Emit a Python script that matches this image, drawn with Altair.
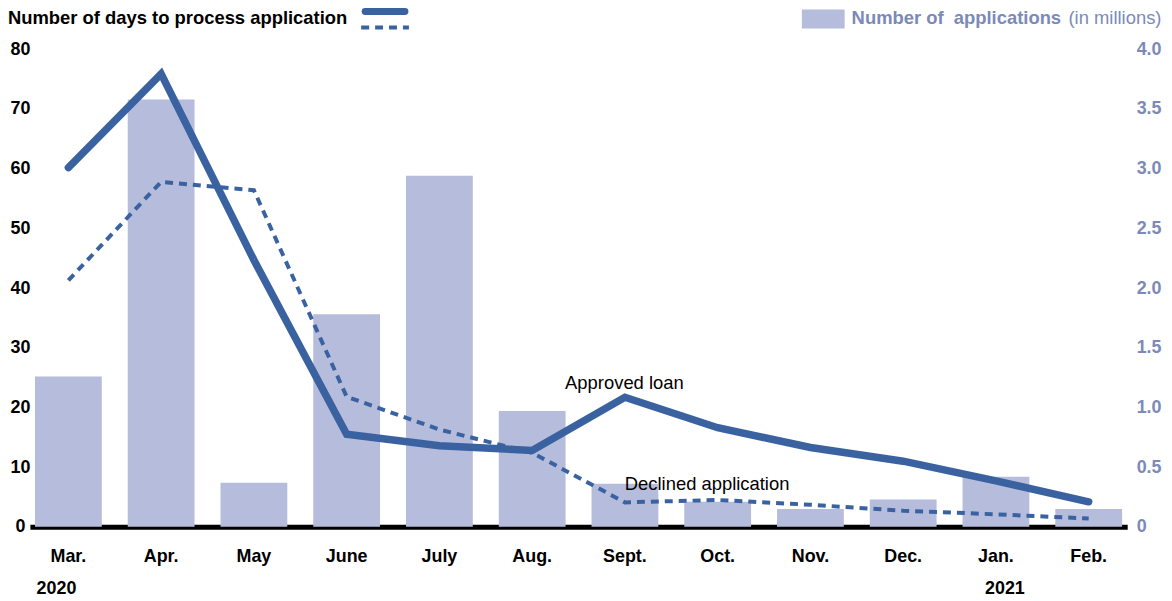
import altair as alt
import pandas as pd

months = ["Mar.", "Apr.", "May", "June", "July", "Aug.", "Sept.", "Oct.", "Nov.", "Dec.", "Jan.", "Feb."]
applications = [1.26, 3.58, 0.37, 1.78, 2.94, 0.97, 0.36, 0.21, 0.15, 0.23, 0.42, 0.15]
approved = [60.2, 75.9, 44.7, 15.5, 13.6, 12.8, 21.7, 16.6, 13.3, 11.0, 7.7, 4.2]
declined = [41.3, 57.8, 56.4, 21.8, 16.3, 12.4, 4.1, 4.5, 3.7, 2.7, 2.1, 1.4]
year_months = ["Mar.", "Jan."]
years = ["2020", "2021"]

BAR = "#b6bcdb"
LINE = "#3b62a0"
RIGHT = "#7b8ab8"
FONT = "Liberation Sans"

df = pd.DataFrame({"month": months, "apps": applications,
                   "approved": approved, "declined": declined})
ydf = pd.DataFrame({"month": year_months, "year": years})

xenc = alt.X("month:N", sort=months, title=None,
             scale=alt.Scale(paddingInner=0.28, paddingOuter=0.055),
             axis=alt.Axis(labelAngle=0, labelFont=FONT, labelFontWeight="bold",
                           labelFontSize=18, labelColor="black", labelPadding=21,
                           ticks=False, domainColor="black", domainWidth=5, grid=False))

bars = alt.Chart(df).mark_bar(color=BAR).encode(
    x=xenc,
    y=alt.Y("apps:Q", title=None,
            scale=alt.Scale(domain=[0, 4], nice=False),
            axis=alt.Axis(orient="right", values=[0, 0.5, 1, 1.5, 2, 2.5, 3, 3.5, 4],
                          labelExpr="datum.value == 0 ? '0' : format(datum.value, '.1f')",
                          labelFont=FONT, labelFontWeight="bold", labelFontSize=18,
                          labelColor=RIGHT, labelPadding=9, ticks=False, domain=False,
                          grid=False, labelAlign="left"))
)

left_axis = alt.Axis(orient="left", values=list(range(0, 81, 10)),
                     labelFont=FONT, labelFontWeight="bold", labelFontSize=18,
                     labelColor="black", labelPadding=10, labelAlign="center",
                     ticks=False, domain=False, grid=False)
left_scale = alt.Scale(domain=[0, 80], nice=False)

solid = alt.Chart(df).mark_line(color=LINE, strokeWidth=7.5, strokeCap="round",
                                strokeJoin="miter").encode(
    x=alt.X("month:N", sort=months),
    y=alt.Y("approved:Q", title=None, scale=left_scale, axis=left_axis))

dashed = alt.Chart(df).mark_line(color=LINE, strokeWidth=4, strokeDash=[8, 6]).encode(
    x=alt.X("month:N", sort=months),
    y=alt.Y("declined:Q", title=None, scale=left_scale, axis=left_axis))

year1 = alt.Chart(ydf.iloc[[0]]).mark_text(font=FONT, fontWeight="bold", fontSize=18,
                                           color="black", baseline="middle", dx=-12).encode(
    x=alt.X("month:N", sort=months), y=alt.value(542), text="year:N")
year2 = alt.Chart(ydf.iloc[[1]]).mark_text(font=FONT, fontWeight="bold", fontSize=18,
                                           color="black", baseline="middle", dx=9).encode(
    x=alt.X("month:N", sort=months), y=alt.value(542), text="year:N")

ann = pd.DataFrame({"t": ["Approved loan", "Declined application"],
                    "px": [538, 598], "py": [335, 437]})
ann_txt = alt.Chart(ann).mark_text(font=FONT, fontSize=18.5, color="black",
                                   align="left", baseline="middle").encode(
    x=alt.value(0), y=alt.value(0), text="t:N"
).encode(x=alt.X("px:Q", scale=None, axis=None), y=alt.Y("py:Q", scale=None, axis=None))

title_left = alt.Chart(pd.DataFrame({"t": ["Number of days to process application"]})).mark_text(
    font=FONT, fontWeight="bold", fontSize=18.5, color="black", align="left", baseline="middle"
).encode(x=alt.value(-22), y=alt.value(-31), text="t:N")

leg_solid = alt.Chart(pd.DataFrame({"a": [1]})).mark_rule(
    color=LINE, strokeWidth=7, strokeCap="round").encode(
    x=alt.value(337), x2=alt.value(377), y=alt.value(-38))
leg_dash = alt.Chart(pd.DataFrame({"a": [1]})).mark_rule(
    color=LINE, strokeWidth=4, strokeDash=[8, 6]).encode(
    x=alt.value(333), x2=alt.value(381), y=alt.value(-22))

leg_rect = alt.Chart(pd.DataFrame({"a": [1]})).mark_rect(color=BAR).encode(
    x=alt.value(776), x2=alt.value(819), y=alt.value(-40), y2=alt.value(-21))
leg_t1 = alt.Chart(pd.DataFrame({"t": ["Number of\u00a0 applications"]})).mark_text(
    font=FONT, fontWeight="bold", fontSize=18.5, color=RIGHT, align="left", baseline="middle"
).encode(x=alt.value(826), y=alt.value(-31), text="t:N")
leg_t2 = alt.Chart(pd.DataFrame({"t": ["(in millions)"]})).mark_text(
    font=FONT, fontSize=18.5, color=RIGHT, align="left", baseline="middle"
).encode(x=alt.value(1044), y=alt.value(-31), text="t:N")

lines = alt.layer(solid, dashed, year1, year2, ann_txt, title_left, leg_solid, leg_dash,
                  leg_rect, leg_t1, leg_t2)

chart = alt.layer(bars, lines).resolve_scale(y="independent").properties(
    width=1103, height=480,
    autosize=alt.AutoSizeParams(type="none"),
    padding={"left": 22, "top": 40, "right": 37, "bottom": 73},
).configure_view(stroke="transparent", strokeWidth=0)

chart.save("out.html", embed_options={"renderer": "svg", "actions": False})
